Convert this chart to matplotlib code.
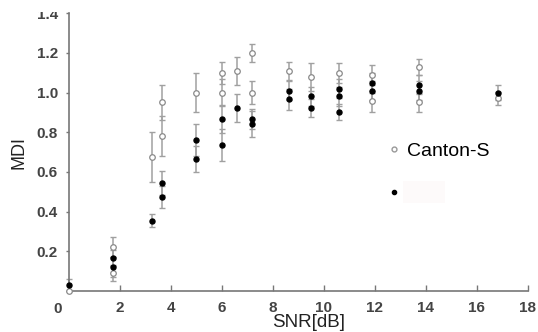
import matplotlib
matplotlib.use("Agg")
import matplotlib.pyplot as plt
from matplotlib.lines import Line2D
from matplotlib.patches import Rectangle

plt.rcParams['font.family'] = ['Liberation Sans', 'DejaVu Sans']

# Canton-S (open circles)
cs_x = [0.0, 1.75, 1.75, 3.25, 3.65, 3.65, 5.0, 6.0, 6.0, 6.6, 7.2, 7.2,
        8.65, 9.5, 10.6, 11.9, 11.9, 13.75, 13.75, 16.85]
cs_y = [0.0, 0.22, 0.09, 0.675, 0.95, 0.78, 1.0, 1.10, 1.0, 1.11, 1.2, 1.0,
        1.11, 1.08, 1.10, 1.09, 0.955, 1.13, 0.95, 0.97]
cs_err = [0.0, 0.05, 0.04, 0.125, 0.09, 0.10, 0.10, 0.055, 0.07, 0.07, 0.045, 0.06,
          0.045, 0.07, 0.05, 0.05, 0.055, 0.04, 0.05, 0.035]

# second strain (filled circles, label erased in the original)
bk_x = [0.0, 1.75, 1.75, 3.25, 3.65, 3.65, 5.0, 5.0, 6.0, 6.0, 6.6, 7.2, 7.2,
        8.65, 8.65, 9.5, 9.5, 10.6, 10.6, 10.6, 11.9, 11.9, 13.75, 13.75, 16.85]
bk_y = [0.03, 0.165, 0.12, 0.355, 0.545, 0.475, 0.76, 0.665, 0.865, 0.735, 0.92, 0.865, 0.84,
        1.01, 0.965, 0.98, 0.92, 1.02, 0.98, 0.90, 1.05, 1.01, 1.04, 1.01, 1.00]
bk_err = [0.03, 0.04, 0.05, 0.035, 0.06, 0.055, 0.08, 0.065, 0.07, 0.08, 0.07, 0.05, 0.065,
          0.05, 0.055, 0.05, 0.045, 0.05, 0.05, 0.04, 0.05, 0.05, 0.05, 0.05, 0.04]

x_ticks = [2, 4, 6, 8, 10, 12, 14, 16, 18]
y_ticks = [0.2, 0.4, 0.6, 0.8, 1.0, 1.2, 1.4]

fig = plt.figure(figsize=(5.38, 3.32), dpi=100)
ax = fig.add_axes([0.128, 0.1235, 0.853, 0.837])

ax.errorbar(cs_x, cs_y, yerr=cs_err, fmt='none', ecolor='#a0a0a0', elinewidth=1.1,
            capsize=2, capthick=1, zorder=2, clip_on=False)
ax.errorbar(bk_x, bk_y, yerr=bk_err, fmt='none', ecolor='#a0a0a0', elinewidth=1.1,
            capsize=2, capthick=1, zorder=2, clip_on=False)
ax.plot(cs_x, cs_y, 'o', markersize=4, markerfacecolor='white',
        markeredgecolor='#8a8a8a', markeredgewidth=0.9, linestyle='none', zorder=3, clip_on=False)
ax.plot(bk_x, bk_y, 'o', markersize=3.6, color='black', linestyle='none', zorder=4, clip_on=False)

ax.set_xlim(0, 18)
ax.set_ylim(0, 1.4)
ax.set_xticks(x_ticks)
ax.set_yticks(y_ticks)
ax.set_yticklabels(['0.2', '0.4', '0.6', '0.8', '1.0', '1.2', '1.4'])

for s in ['top', 'right']:
    ax.spines[s].set_visible(False)
for s in ['left', 'bottom']:
    ax.spines[s].set_color('#777777')
    ax.spines[s].set_linewidth(1.2)

ax.tick_params(axis='x', direction='in', length=4, width=1, color='#777777',
               labelsize=11, labelcolor='#444444', pad=7)
ax.tick_params(axis='y', direction='out', length=2, width=1, color='#777777',
               labelsize=11, labelcolor='#444444', pad=6)
for lbl in ax.get_xticklabels() + ax.get_yticklabels():
    lbl.set_fontweight('bold')

ax.text(-0.45, -0.055, '0', transform=ax.transData, ha='center', va='top',
        fontsize=11, color='#444444', fontweight='bold')

ax.set_xlabel('SNR[dB]', fontsize=13.5, color='#222222')
ax.xaxis.set_label_coords(0.522, -0.082, transform=ax.transAxes)
ax.xaxis.label.set_va('top')
ax.set_ylabel('MDI', fontsize=13, color='#222222')
ax.yaxis.set_label_coords(-0.09, 0.5)

handles = [
    Line2D([], [], marker='o', linestyle='none', markersize=3.5, markerfacecolor='white',
           markeredgecolor='#999999'),
    Line2D([], [], marker='o', linestyle='none', markersize=3, color='black'),
]
ax.legend(handles, ['Canton-S', ' '], loc='upper left', bbox_to_anchor=(0.70, 0.535),
          frameon=False, fontsize=14, handlelength=0.4, handletextpad=0.45,
          labelspacing=1.3, borderpad=0, borderaxespad=0)

# faint box where the second label was erased
fig.patches.append(Rectangle((403 / 538, 1 - 203 / 332), 42 / 538, 22 / 332,
                             transform=fig.transFigure, facecolor='#fdfafa',
                             edgecolor='none', zorder=5))
# top of the figure is cropped
fig.patches.append(Rectangle((0, 1 - 12 / 332), 66 / 538, 12 / 332,
                             transform=fig.transFigure, facecolor='white',
                             edgecolor='none', zorder=10))

fig.savefig('out.png', dpi=100)
